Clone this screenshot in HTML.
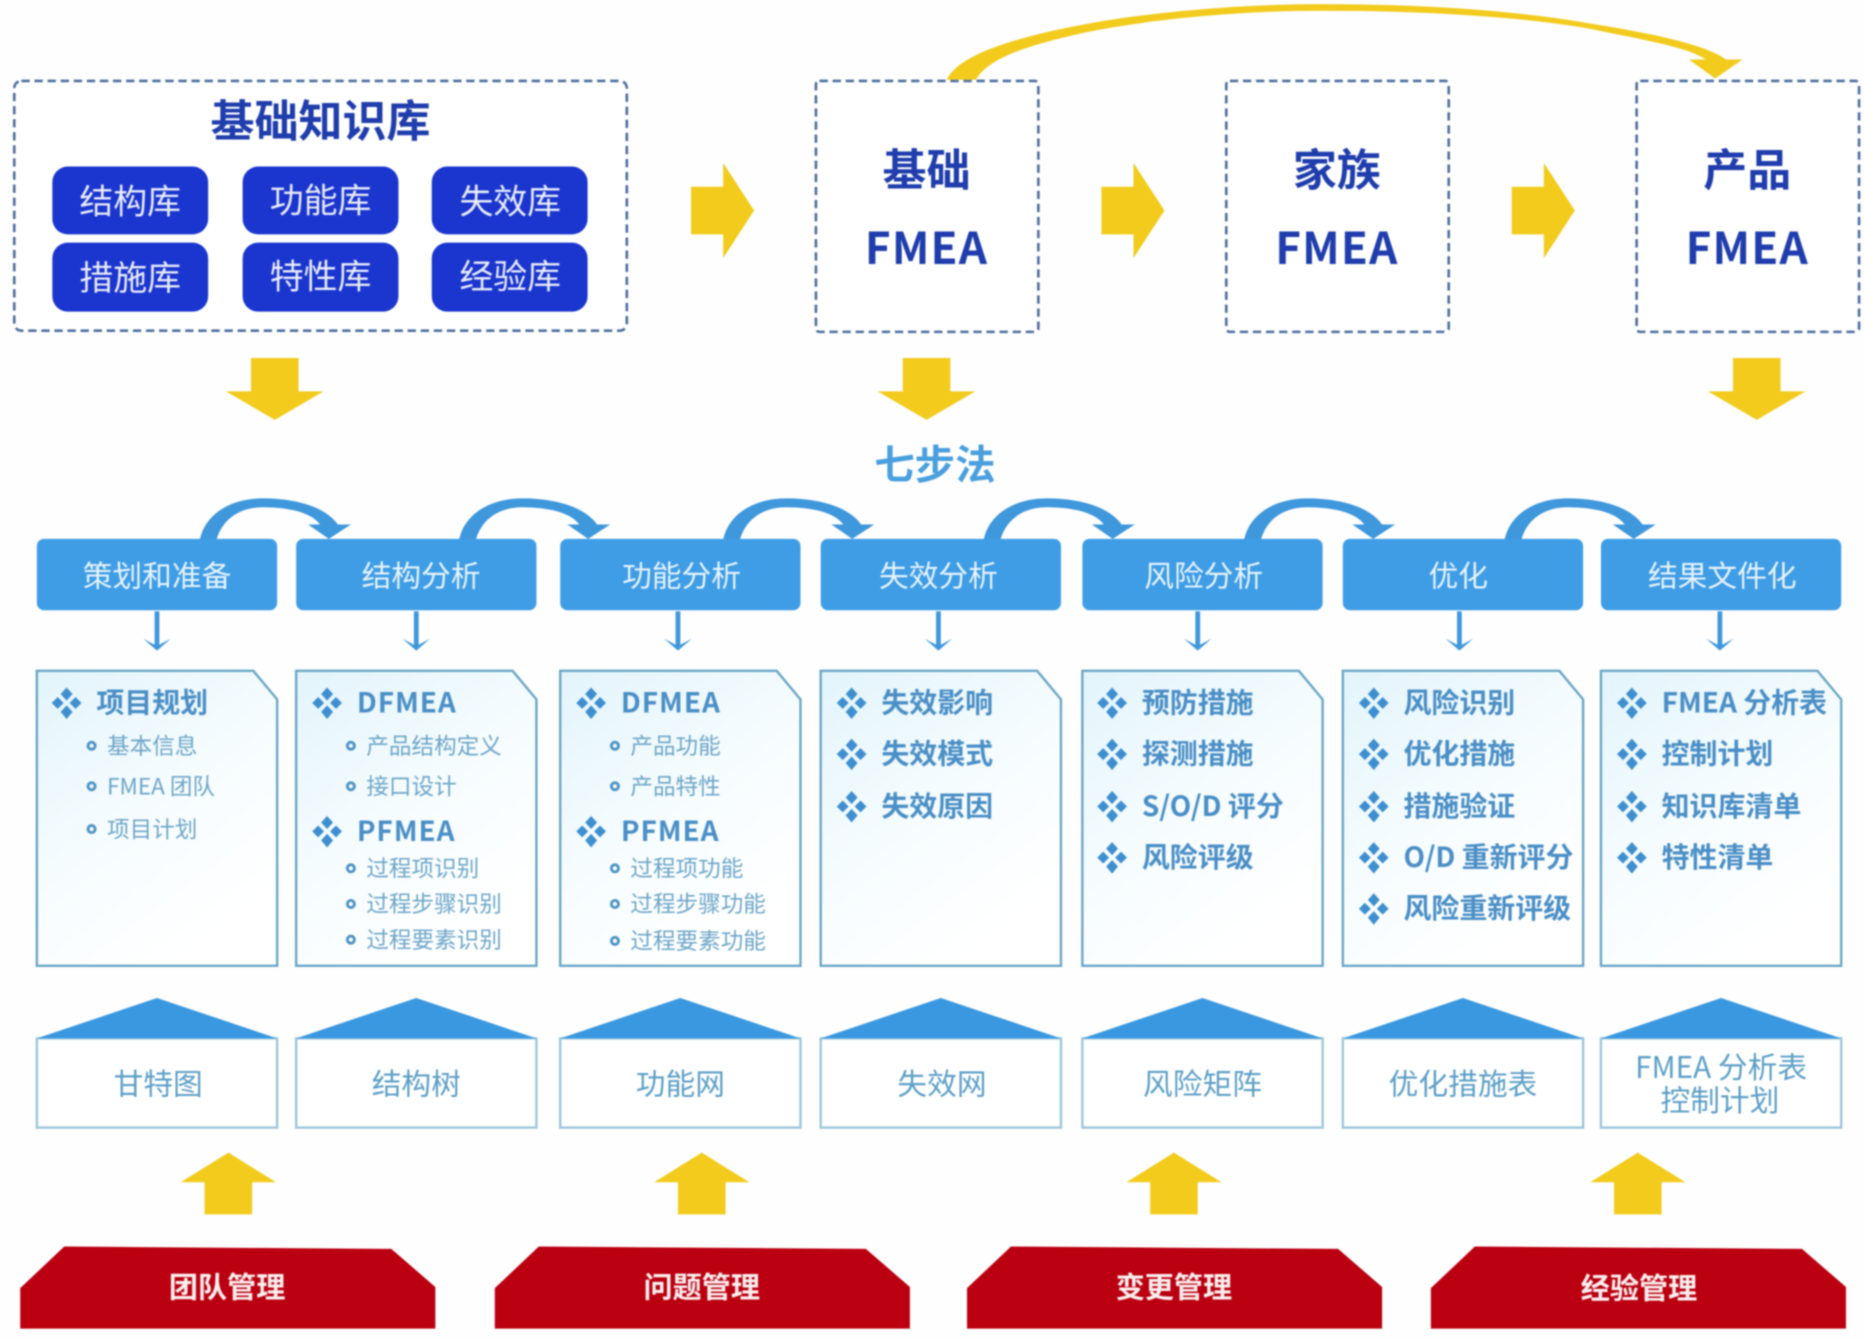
<!DOCTYPE html>
<html lang="zh">
<head>
<meta charset="utf-8">
<title>FMEA 七步法</title>
<style>
html,body{margin:0;padding:0;background:#fefefe;width:1865px;height:1341px;overflow:hidden}
svg{display:block;filter:blur(.7px)}
text{font-family:"Noto Sans CJK SC","Liberation Sans",sans-serif;dominant-baseline:central;transform:translateY(-.055em)}
.t{font-size:37px;font-weight:700;fill:#1f3dac;text-anchor:middle}
.f{letter-spacing:1px}
.b{font-size:28.500px;fill:#e8ecfb;text-anchor:middle}
.hd{font-size:25px;fill:#e6f3fc;text-anchor:middle}
.h{font-size:23.500px;font-weight:700;fill:#4b8fc6}
.l{letter-spacing:.8px}
.s{font-size:19px;fill:#6ea6c8}
.hs{font-size:25px;fill:#5d9fc6;text-anchor:middle}
.r{font-size:24.500px;font-weight:700;fill:#fbeeee;text-anchor:middle}
.dash{fill:#fff;stroke:#4f6f9f;stroke-width:2.2;stroke-dasharray:7 4}
.btn{fill:#1b36cf}
.head{fill:#3f9de6}
.doc{fill:url(#g);stroke:#6ba6c6;stroke-width:2}
.roof{fill:#3a98e0}
.house{fill:#fff;stroke:#9cc6da;stroke-width:2}
.red{fill:#bb0011}
.y{fill:#f2cb1c}
.dot{fill:none;stroke:#4f94c4;stroke-width:2.4}
.arc{fill:#3f97dc}
</style>
</head>
<body>
<svg xmlns="http://www.w3.org/2000/svg" width="1865" height="1341" viewBox="0 0 1568 1127.4">
<defs>
<linearGradient id="g" x1="0" y1="0" x2=".6" y2="1">
<stop offset="0" stop-color="#e2f4fb"/><stop offset=".55" stop-color="#f6fcfe"/><stop offset="1" stop-color="#fff"/>
</linearGradient>
<g id="dm" fill="#3f8fd0">
<path d="M0-13 5-7.500 0-2-5-7.500Z"/><path d="M0 2 5 7.500 0 13.500-5 7.500Z"/><path d="M-12.500 0-7.500-5-2.500 0-7.500 5Z"/><path d="M12.500 0 7.500-5 2.500 0 7.500 5Z"/>
</g>
<path id="ra" d="M0 20H27V-40L53 0 27 40V-20H0Z" class="y"/>
<path id="da" d="M-20-52H20V-24H41L0 0-41-24H-20Z" class="y"/>
<path id="ua" d="M0 0 40 25H20V52H-20V25H-40Z" class="y"/>
<path id="arc" d="M0 35C4 14 25 0 53 0 78 0 105 6 116 22L127 22 108.500 34 91 22 101 22C94 12 75 7.500 53 7.500 34 7.500 19 17 14 35Z" class="arc"/>
<path id="sa" d="M-2 0H2V28L11.500 23 0 33-11.500 23-2 28Z" class="arc"/>
</defs>

<rect width="1568" height="1127.4" fill="#fefefe"/>

<!-- knowledge base -->
<rect class="dash" x="12" y="68" width="515" height="210" rx="6"/>
<text class="t" x="269.500" y="101">基础知识库</text>
<rect class="btn" x="44" y="140" width="131" height="57" rx="13"/>
<rect class="btn" x="204" y="140" width="131" height="57" rx="13"/>
<rect class="btn" x="363" y="140" width="131" height="57" rx="13"/>
<rect class="btn" x="44" y="204" width="131" height="58" rx="13"/>
<rect class="btn" x="204" y="204" width="131" height="58" rx="13"/>
<rect class="btn" x="363" y="204" width="131" height="58" rx="13"/>
<text class="b" x="109.500" y="169">结构库</text>
<text class="b" x="269.500" y="168">功能库</text>
<text class="b" x="429" y="169">失效库</text>
<text class="b" x="109.500" y="233">措施库</text>
<text class="b" x="269.500" y="232">特性库</text>
<text class="b" x="429" y="232">经验库</text>

<!-- FMEA boxes -->
<rect class="dash" x="686" y="68" width="187" height="211" rx="3"/>
<rect class="dash" x="1031" y="68" width="187" height="211" rx="3"/>
<rect class="dash" x="1376" y="68" width="187" height="211" rx="3"/>
<text class="t" x="779" y="142">基础</text><text class="t f" x="779" y="208">FMEA</text>
<text class="t" x="1124" y="142">家族</text><text class="t f" x="1124" y="208">FMEA</text>
<text class="t" x="1469" y="142">产品</text><text class="t f" x="1469" y="208">FMEA</text>

<!-- curved arrow -->
<path class="y" d="M796 67C805 47 850 32 909 21 960 11 1040 3.400 1111 3.400 1190 3.400 1270 8 1336 19.600 1390 28 1435 38 1451 50L1465 50 1442 66 1420 50 1434 50C1420 40 1385 34 1336 24 1270 13 1190 9 1111 9 1040 9 960 17 909 28 870 37 832 47 820.500 67Z"/>

<use href="#ra" x="581" y="177"/>
<use href="#ra" x="926" y="177"/>
<use href="#ra" x="1271" y="177"/>
<use href="#da" x="231" y="353"/>
<use href="#da" x="779" y="353"/>
<use href="#da" x="1477" y="353"/>

<text x="786" y="390" style="font-size:34px;font-weight:700;fill:#4a9fde;text-anchor:middle">七步法</text>

<!-- arcs -->
<use href="#arc" x="168" y="419"/>
<use href="#arc" x="386" y="419"/>
<use href="#arc" x="608" y="419"/>
<use href="#arc" x="827" y="419"/>
<use href="#arc" x="1046" y="419"/>
<use href="#arc" x="1265" y="419"/>

<!-- step headers -->
<rect class="head" x="31" y="453" width="202" height="60" rx="6"/>
<rect class="head" x="249" y="453" width="202" height="60" rx="6"/>
<rect class="head" x="471" y="453" width="202" height="60" rx="6"/>
<rect class="head" x="690" y="453" width="202" height="60" rx="6"/>
<rect class="head" x="910" y="453" width="202" height="60" rx="6"/>
<rect class="head" x="1129" y="453" width="202" height="60" rx="6"/>
<rect class="head" x="1346" y="453" width="202" height="60" rx="6"/>
<text class="hd" x="132" y="484">策划和准备</text>
<text class="hd" x="354" y="484">结构分析</text>
<text class="hd" x="573" y="484">功能分析</text>
<text class="hd" x="789" y="484">失效分析</text>
<text class="hd" x="1012" y="484">风险分析</text>
<text class="hd" x="1226" y="484">优化</text>
<text class="hd" x="1448" y="484">结果文件化</text>

<use href="#sa" x="132" y="514"/>
<use href="#sa" x="350" y="514"/>
<use href="#sa" x="570" y="514"/>
<use href="#sa" x="789" y="514"/>
<use href="#sa" x="1007" y="514"/>
<use href="#sa" x="1227" y="514"/>
<use href="#sa" x="1446" y="514"/>

<!-- documents -->
<path class="doc" d="M31 564H213L233 588V812H31Z"/>
<path class="doc" d="M249 564H431L451 588V812H249Z"/>
<path class="doc" d="M471 564H653L673 588V812H471Z"/>
<path class="doc" d="M690 564H872L892 588V812H690Z"/>
<path class="doc" d="M910 564H1092L1112 588V812H910Z"/>
<path class="doc" d="M1129 564H1311L1331 588V812H1129Z"/>
<path class="doc" d="M1346 564H1528L1548 588V812H1346Z"/>

<!-- col 1 -->
<use href="#dm" x="56" y="591"/><text class="h" x="81" y="591">项目规划</text>
<circle class="dot" cx="77" cy="627" r="3"/><text class="s" x="90" y="627">基本信息</text>
<circle class="dot" cx="77" cy="661" r="3"/><text class="s" x="90" y="661">FMEA 团队</text>
<circle class="dot" cx="77" cy="697" r="3"/><text class="s" x="90" y="697">项目计划</text>
<!-- col 2 -->
<use href="#dm" x="275" y="591"/><text class="h l" x="300" y="591">DFMEA</text>
<circle class="dot" cx="295" cy="627" r="3"/><text class="s" x="308" y="627">产品结构定义</text>
<circle class="dot" cx="295" cy="661" r="3"/><text class="s" x="308" y="661">接口设计</text>
<use href="#dm" x="275" y="699"/><text class="h l" x="300" y="699">PFMEA</text>
<circle class="dot" cx="295" cy="730" r="3"/><text class="s" x="308" y="730">过程项识别</text>
<circle class="dot" cx="295" cy="760" r="3"/><text class="s" x="308" y="760">过程步骤识别</text>
<circle class="dot" cx="295" cy="790" r="3"/><text class="s" x="308" y="790">过程要素识别</text>
<!-- col 3 -->
<use href="#dm" x="497" y="591"/><text class="h l" x="522" y="591">DFMEA</text>
<circle class="dot" cx="517" cy="627" r="3"/><text class="s" x="530" y="627">产品功能</text>
<circle class="dot" cx="517" cy="661" r="3"/><text class="s" x="530" y="661">产品特性</text>
<use href="#dm" x="497" y="699"/><text class="h l" x="522" y="699">PFMEA</text>
<circle class="dot" cx="517" cy="730" r="3"/><text class="s" x="530" y="730">过程项功能</text>
<circle class="dot" cx="517" cy="760" r="3"/><text class="s" x="530" y="760">过程步骤功能</text>
<circle class="dot" cx="517" cy="791" r="3"/><text class="s" x="530" y="791">过程要素功能</text>
<!-- col 4 -->
<use href="#dm" x="716" y="591"/><text class="h" x="741" y="591">失效影响</text>
<use href="#dm" x="716" y="634"/><text class="h" x="741" y="634">失效模式</text>
<use href="#dm" x="716" y="678"/><text class="h" x="741" y="678">失效原因</text>
<!-- col 5 -->
<use href="#dm" x="935" y="591"/><text class="h" x="960" y="591">预防措施</text>
<use href="#dm" x="935" y="634"/><text class="h" x="960" y="634">探测措施</text>
<use href="#dm" x="935" y="678"/><text class="h" x="960" y="678">S/O/D 评分</text>
<use href="#dm" x="935" y="721"/><text class="h" x="960" y="721">风险评级</text>
<!-- col 6 -->
<use href="#dm" x="1155" y="591"/><text class="h" x="1180" y="591">风险识别</text>
<use href="#dm" x="1155" y="634"/><text class="h" x="1180" y="634">优化措施</text>
<use href="#dm" x="1155" y="678"/><text class="h" x="1180" y="678">措施验证</text>
<use href="#dm" x="1155" y="721"/><text class="h" x="1180" y="721">O/D 重新评分</text>
<use href="#dm" x="1155" y="764"/><text class="h" x="1180" y="764">风险重新评级</text>
<!-- col 7 -->
<use href="#dm" x="1372" y="591"/><text class="h" x="1397" y="591">FMEA 分析表</text>
<use href="#dm" x="1372" y="634"/><text class="h" x="1397" y="634">控制计划</text>
<use href="#dm" x="1372" y="678"/><text class="h" x="1397" y="678">知识库清单</text>
<use href="#dm" x="1372" y="721"/><text class="h" x="1397" y="721">特性清单</text>

<!-- houses -->
<rect class="house" x="31" y="873" width="202" height="75"/><path class="roof" d="M31 873 132 839 233 873Z"/>
<rect class="house" x="249" y="873" width="202" height="75"/><path class="roof" d="M249 873 350 839 451 873Z"/>
<rect class="house" x="471" y="873" width="202" height="75"/><path class="roof" d="M471 873 572 839 673 873Z"/>
<rect class="house" x="690" y="873" width="202" height="75"/><path class="roof" d="M690 873 791 839 892 873Z"/>
<rect class="house" x="910" y="873" width="202" height="75"/><path class="roof" d="M910 873 1011 839 1112 873Z"/>
<rect class="house" x="1129" y="873" width="202" height="75"/><path class="roof" d="M1129 873 1230 839 1331 873Z"/>
<rect class="house" x="1346" y="873" width="202" height="75"/><path class="roof" d="M1346 873 1447 839 1548 873Z"/>
<text class="hs" x="133" y="911">甘特图</text>
<text class="hs" x="350" y="911">结构树</text>
<text class="hs" x="572" y="911">功能网</text>
<text class="hs" x="792" y="911">失效网</text>
<text class="hs" x="1011" y="911">风险矩阵</text>
<text class="hs" x="1230" y="911">优化措施表</text>
<text class="hs" x="1447" y="897">FMEA 分析表</text>
<text class="hs" x="1446" y="925">控制计划</text>

<use href="#ua" x="192" y="969"/>
<use href="#ua" x="590" y="969"/>
<use href="#ua" x="987" y="969"/>
<use href="#ua" x="1377" y="969"/>

<!-- management -->
<path class="red" d="M17 1083 54 1048 329 1050 366 1082V1117H17Z"/>
<path class="red" d="M416 1083 453 1048 728 1050 765 1082V1117H416Z"/>
<path class="red" d="M813 1083 850 1048 1125 1050 1162 1082V1117H813Z"/>
<path class="red" d="M1203 1083 1240 1048 1515 1050 1552 1082V1117H1203Z"/>
<text class="r" x="191" y="1082">团队管理</text>
<text class="r" x="590" y="1082">问题管理</text>
<text class="r" x="987" y="1082">变更管理</text>
<text class="r" x="1378" y="1083">经验管理</text>
</svg>
</body>
</html>
